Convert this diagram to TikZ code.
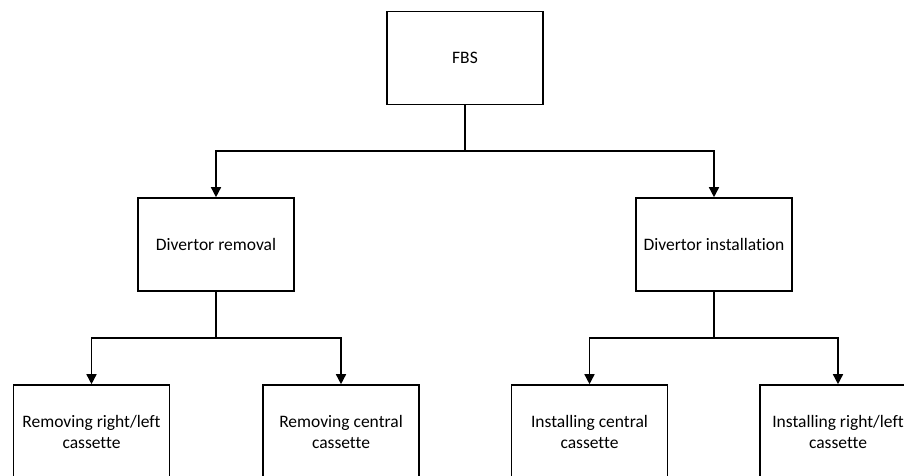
\documentclass[tikz,border=0pt]{standalone}
\usepackage{fontspec}
\setmainfont{Carlito}[RawFeature=-liga]
\usetikzlibrary{arrows.meta}
\begin{document}
\begin{tikzpicture}[x=1pt,y=-1pt,
  box/.style={draw, line width=1.6pt, minimum width=156pt, minimum height=93pt,
    inner sep=0pt, align=center, font=\fontsize{17.5}{21}\selectfont},
  link/.style={line width=1.5pt},
  arr/.style={link, -{Triangle[width=10pt,length=10pt]}}]
\useasboundingbox (0,0) rectangle (904,476);
\clip (0,0) rectangle (904,476);
% top level
\node[box] (fbs) at (465,58) {FBS};
% second level
\node[box] (rem) at (216,244.5) {Divertor removal};
\node[box] (ins) at (714,244.5) {Divertor installation};
% third level
\node[box] (rrl) at (91.5,431.5) {Removing right/left\\cassette};
\node[box] (rc)  at (341,431.5) {Removing central\\cassette};
\node[box] (ic)  at (589.5,431.5) {Installing central\\cassette};
\node[box] (irl) at (838,431.5) {Installing right/left\\cassette};
% branch points
\coordinate (j1) at (465,151);
\coordinate (j2) at (216,338);
\coordinate (j3) at (714,338);
% connectors
\draw[link] (fbs.south) -- (j1);
\draw[arr] (j1) -| (rem.north);
\draw[arr] (j1) -| (ins.north);
\draw[link] (rem.south) -- (j2);
\draw[arr] (j2) -| (rrl.north);
\draw[arr] (j2) -| (rc.north);
\draw[link] (ins.south) -- (j3);
\draw[arr] (j3) -| (ic.north);
\draw[arr] (j3) -| (irl.north);
\end{tikzpicture}
\end{document}
